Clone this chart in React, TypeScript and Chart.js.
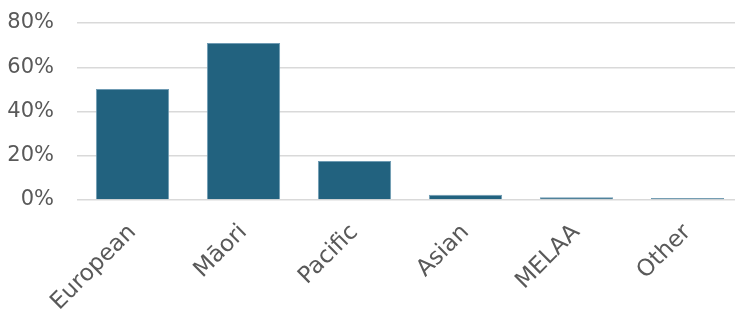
import React, { useEffect, useRef } from "react";
import { Chart, registerables } from "chart.js";

Chart.register(...registerables);

const categories = ["European", "Māori", "Pacific", "Asian", "MELAA", "Other"];
const shares = [50.2, 71.0, 17.6, 2.4, 1.2, 0.9];
const yTicks = [0, 20, 40, 60, 80];

const FONT = "'DejaVu Sans', sans-serif";

export default function App() {
  const ref = useRef<HTMLCanvasElement | null>(null);
  useEffect(() => {
    if (!ref.current) return;
    const chart = new Chart(ref.current, {
      type: "bar",
      data: {
        labels: categories,
        datasets: [
          {
            data: shares,
            backgroundColor: "#22627f",
            borderColor: "#6f9bb3",
            borderWidth: 1,
            categoryPercentage: 0.66,
            barPercentage: 1,
          },
        ],
      },
      options: {
        animation: false,
        responsive: false,
        maintainAspectRatio: false,
        layout: { padding: { top: 23, left: 0, right: 0, bottom: 0 } },
        plugins: { legend: { display: false }, tooltip: { enabled: false } },
        scales: {
          x: {
            grid: { display: false },
            border: { display: false },
            ticks: {
              color: "#595959",
              font: { family: FONT, size: 23 },
              minRotation: 45,
              maxRotation: 45,
              padding: 11,
            },
            afterFit: (s: any) => {
              s.height = 110;
            },
          },
          y: {
            min: 0,
            max: 80,
            afterBuildTicks: (s: any) => {
              s.ticks = yTicks.map((v) => ({ value: v }));
            },
            grid: { color: "#d9d9d9", lineWidth: 1.5, drawTicks: false },
            border: { display: false },
            ticks: {
              color: "#595959",
              font: { family: FONT, size: 21 },
              padding: 23,
              callback: (v: any) => v + "%",
            },
            afterFit: (s: any) => {
              s.width = 77;
              s.paddingTop = 0;
              s.paddingBottom = 0;
            },
          },
        },
      },
    });
    return () => chart.destroy();
  }, []);
  return (
    <div style={{ position: "fixed", left: 0, top: 0, width: 735, height: 310, overflow: "hidden", background: "#fff" }}>
      <canvas ref={ref} width={743} height={310} style={{ display: "block", width: 743, height: 310 }} />
    </div>
  );
}
